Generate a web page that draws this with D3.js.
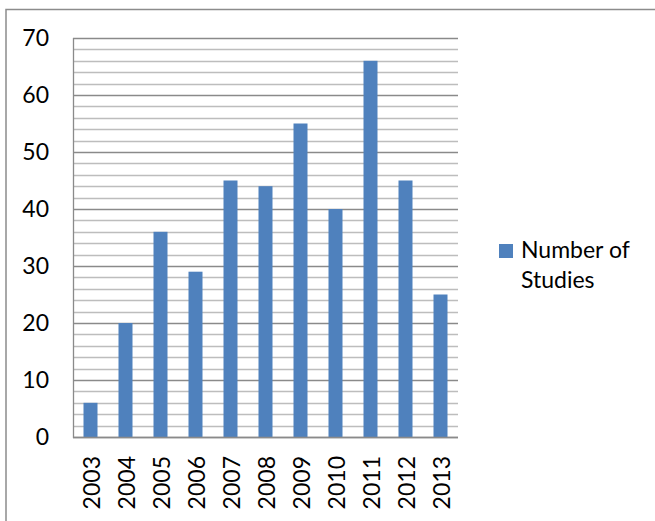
<!DOCTYPE html>
<html><head><meta charset="utf-8">
<script src="https://cdn.jsdelivr.net/npm/d3@7"></script>
<style>body{margin:0;background:#fff}svg{display:block}text{font-family:Lato,"Open Sans",sans-serif;fill:#000}</style>
</head><body><svg id="c" width="655" height="521"></svg>
<script>
const years = ["2003","2004","2005","2006","2007","2008","2009","2010","2011","2012","2013"];
const studies = [6,20,36,29,45,44,55,40,66,45,25];
const yTicks = [0,10,20,30,40,50,60,70];
const minorTicks = d3.range(0,71,2);
const seriesName = ["Number of","Studies"];

const svg = d3.select("#c");
const L=73,R=458,T=38,B=437;
const FS="23px";
svg.append("path").attr("d","M6,530V9.5H670").attr("fill","none").attr("stroke","#8c8c8c").attr("stroke-width",1.5);

const x = d3.scaleBand().domain(years).range([L,R]).paddingInner(0.6).paddingOuter(0.3);
const y = d3.scaleLinear().domain([0,70]).range([B,T]);

svg.append("g").selectAll("line").data(minorTicks.filter(d=>d%10!==0)).join("line")
  .attr("x1",L).attr("x2",R).attr("y1",d=>Math.round(y(d))+0.5).attr("y2",d=>Math.round(y(d))+0.5)
  .attr("stroke","#bdbdbd").attr("stroke-width",1.3);
svg.append("g").selectAll("line").data(yTicks).join("line")
  .attr("x1",L).attr("x2",R).attr("y1",d=>Math.round(y(d))+0.5).attr("y2",d=>Math.round(y(d))+0.5)
  .attr("stroke","#8a8a8a").attr("stroke-width",1.3);

svg.append("g").selectAll("rect").data(studies).join("rect")
  .attr("x",(d,i)=>x(years[i])).attr("width",x.bandwidth())
  .attr("y",d=>y(d)).attr("height",d=>B-y(d)).attr("fill","#4F81BD");

svg.append("line").attr("x1",L+0.5).attr("x2",L+0.5).attr("y1",T).attr("y2",B+1).attr("stroke","#8a8a8a").attr("stroke-width",1.3);
svg.append("line").attr("x1",L).attr("x2",R).attr("y1",B+0.5).attr("y2",B+0.5).attr("stroke","#8a8a8a").attr("stroke-width",1.5);

svg.append("g").selectAll("text").data(yTicks).join("text")
  .attr("x",49).attr("y",d=>y(d)).attr("dy","0.36em").attr("text-anchor","end")
  .style("font-size",FS).text(d=>d);

svg.append("g").selectAll("text").data(years).join("text")
  .attr("transform",d=>`translate(${x(d)+x.bandwidth()/2+1},456) rotate(-90)`)
  .attr("dy","0.36em").attr("text-anchor","end").style("font-size",FS).text(d=>d);

svg.append("rect").attr("x",499).attr("y",244).attr("width",14).attr("height",14).attr("fill","#4F81BD");
svg.append("g").selectAll("text").data(seriesName).join("text")
  .attr("x",521).attr("y",(d,i)=>258+i*30).style("font-size",FS).text(d=>d);
</script></body></html>
